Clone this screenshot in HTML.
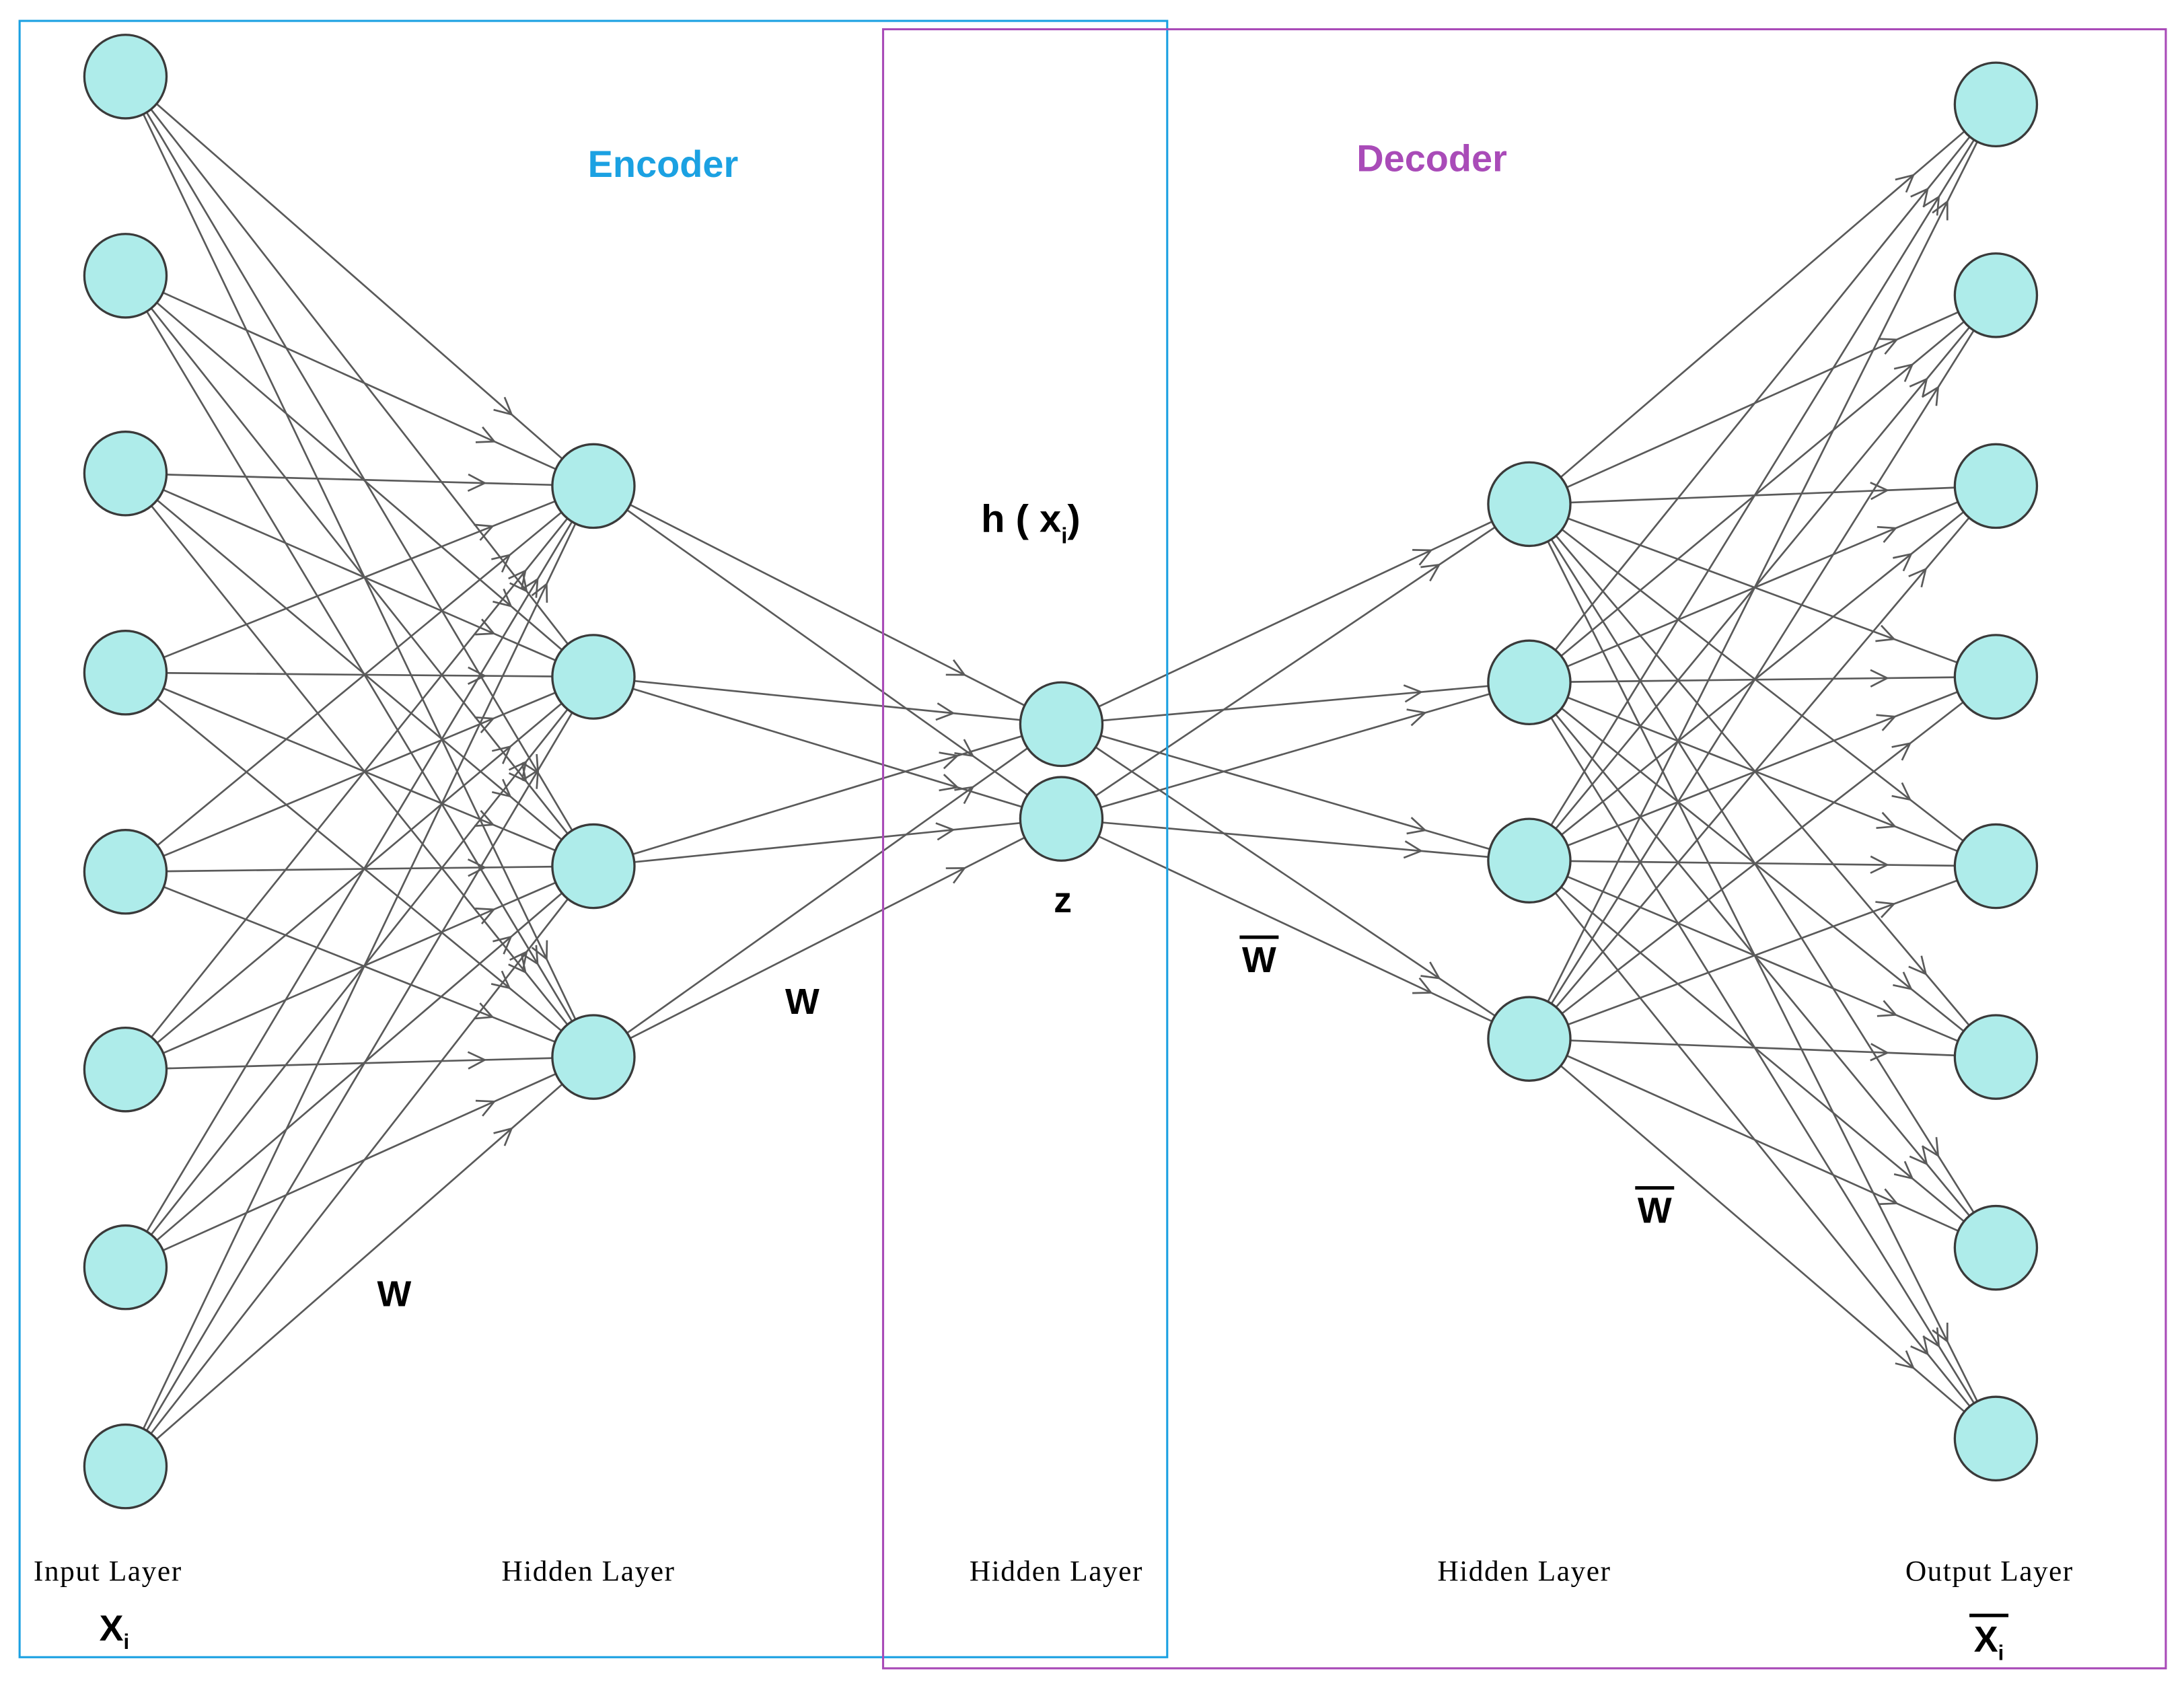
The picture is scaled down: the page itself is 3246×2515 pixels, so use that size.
<!DOCTYPE html>
<html><head><meta charset="utf-8"><style>
html,body{margin:0;padding:0;background:#fff;}
svg{display:block;}
</style></head><body>
<svg id="s" xmlns="http://www.w3.org/2000/svg" width="3246" height="2515" viewBox="0 0 1568 1215">
<rect x="0" y="0" width="1568" height="1215" fill="#fff"/>
<g id="edges" stroke="#5a5a5a" stroke-width="1.3" fill="none"></g>
<g id="nodes" fill="#aeecea" stroke="#3a3a3a" stroke-width="1.6"></g>
<rect x="14" y="15" width="824" height="1175" fill="none" stroke="#1ba1e2" stroke-width="1.5"/>
<rect x="634" y="21" width="921" height="1177" fill="none" stroke="#a94bb8" stroke-width="1.5"/>
<g font-family="Liberation Sans, sans-serif" font-weight="bold" text-anchor="middle">
<text x="476" y="127" font-size="27" fill="#1ba1e2">Encoder</text>
<text x="1028" y="123" font-size="27" fill="#a94bb8">Decoder</text>
<text x="740" y="382" font-size="28" fill="#000">h ( x<tspan font-size="16" dy="8">i</tspan><tspan dy="-8">)</tspan></text>
<text x="763" y="655" font-size="26" fill="#000">z</text>
<text x="576" y="728" font-size="26" fill="#000">W</text>
<text x="283" y="938" font-size="26" fill="#000">W</text>
<text x="904" y="698" font-size="26" fill="#000">W</text>
<line x1="890" y1="673" x2="918" y2="673" stroke="#000" stroke-width="2.5"/>
<text x="1188" y="878" font-size="26" fill="#000">W</text>
<line x1="1174" y1="853" x2="1202" y2="853" stroke="#000" stroke-width="2.5"/>
<text x="82" y="1178" font-size="26" fill="#000">X<tspan font-size="15" dy="6">i</tspan></text>
<text x="1428" y="1186" font-size="26" fill="#000">X<tspan font-size="15" dy="6">i</tspan></text>
<line x1="1414" y1="1160" x2="1442" y2="1160" stroke="#000" stroke-width="2.5"/>
</g>
<g font-family="Liberation Serif, serif" font-size="21" fill="#000" text-anchor="middle">
<text x="77" y="1135" textLength="106">Input Layer</text>
<text x="422" y="1135" textLength="124">Hidden Layer</text>
<text x="758" y="1135" textLength="124">Hidden Layer</text>
<text x="1094" y="1135" textLength="124">Hidden Layer</text>
<text x="1428" y="1135" textLength="120">Output Layer</text>
</g>
</svg>
<script>
(function(){
var NS="http://www.w3.org/2000/svg";
var L=[
 {x:90,ys:[55,198,340,483,626,768,910,1053]},
 {x:426,ys:[349,486,622,759]},
 {x:762,ys:[520,588]},
 {x:1098,ys:[362,490,618,746]},
 {x:1433,ys:[75,212,349,486,622,759,896,1033]}
];
var E=document.getElementById('edges'),N=document.getElementById('nodes');
function ln(a,b,c,d){var l=document.createElementNS(NS,'line');l.setAttribute('x1',a);l.setAttribute('y1',b);l.setAttribute('x2',c);l.setAttribute('y2',d);E.appendChild(l);}
for(var i=0;i<4;i++){var A=L[i],B=L[i+1];
 A.ys.forEach(function(y1){B.ys.forEach(function(y2){
  var x1=A.x,x2=B.x,dx=x2-x1,dy=y2-y1,len=Math.sqrt(dx*dx+dy*dy),ux=dx/len,uy=dy/len;
  ln(x1,y1,x2,y2);
  var px=x2-ux*78,py=y2-uy*78,s=12,w=6;
  ln(px,py,px-ux*s-uy*w,py-uy*s+ux*w);
  ln(px,py,px-ux*s+uy*w,py-uy*s-ux*w);
 });});}
L.forEach(function(l){l.ys.forEach(function(y){var c=document.createElementNS(NS,'ellipse');c.setAttribute('cx',l.x);c.setAttribute('cy',y);c.setAttribute('rx',29.5);c.setAttribute('ry',30);N.appendChild(c);});});
})();
</script>
</body></html>
